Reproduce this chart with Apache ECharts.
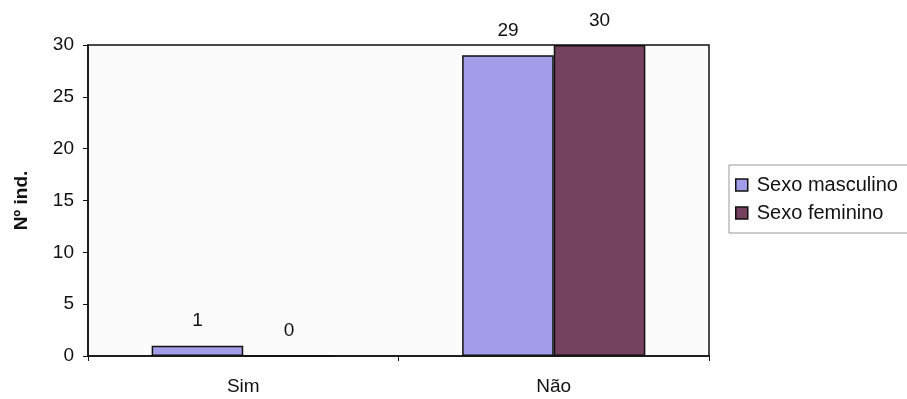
<!DOCTYPE html>
<html>
<head>
<meta charset="utf-8">
<script src="https://cdn.jsdelivr.net/npm/echarts@6/dist/echarts.min.js"></script>
<style>html,body{margin:0;padding:0;background:#fff;}#c{width:907px;height:399px;}</style>
</head>
<body>
<div id="c"></div>
<script>
var categories = ['Sim', 'Não'];
var seriesNames = ['Sexo masculino', 'Sexo feminino'];
var masculino = [1, 29];
var feminino = [0, 30];
var yTicks = [0, 5, 10, 15, 20, 25, 30];

var chart = echarts.init(document.getElementById('c'));
var font = 'Liberation Sans, Arial, sans-serif';
var lbl = {show: true, position: 'top', distance: 15, color: '#111', fontSize: 19, fontFamily: font};
chart.setOption({
  animation: false,
  backgroundColor: '#fff',
  grid: {left: 88, right: 198, top: 45, bottom: 43, show: true, borderColor: '#111', borderWidth: 1.5, backgroundColor: '#fbfbfb'},
  legend: {
    orient: 'vertical', left: 729, top: 165,
    itemWidth: 12, itemHeight: 12, itemGap: 8,
    padding: [10, 30, 10, 6],
    borderColor: '#999', borderWidth: 1,
    icon: 'rect',
    itemStyle: {borderColor: '#111', borderWidth: 1.5},
    textStyle: {fontSize: 20, fontFamily: font, color: '#111', padding: [0, 0, 0, 4]},
    data: seriesNames
  },
  xAxis: {
    type: 'category', data: categories,
    axisLine: {lineStyle: {color: '#111', width: 1.5}},
    axisTick: {show: true, length: 5, lineStyle: {color: '#111'}},
    axisLabel: {fontSize: 19, fontFamily: font, color: '#111', margin: 21}
  },
  yAxis: {
    type: 'value', min: yTicks[0], max: yTicks[yTicks.length - 1], interval: 5,
    name: 'Nº ind.', nameLocation: 'middle', nameGap: 57, nameRotate: 90,
    nameTextStyle: {fontSize: 19, fontWeight: 'bold', fontFamily: font, color: '#111'},
    axisLine: {show: true, lineStyle: {color: '#111', width: 1.5}},
    axisTick: {show: true, length: 5, lineStyle: {color: '#111'}},
    axisLabel: {fontSize: 19, fontFamily: font, color: '#111', margin: 14},
    splitLine: {show: false}
  },
  series: [
    {name: seriesNames[0], type: 'bar', data: masculino, barGap: '0%', barCategoryGap: '41%',
     itemStyle: {color: '#a39de9', borderColor: '#111', borderWidth: 1.5}, label: lbl},
    {name: seriesNames[1], type: 'bar', data: feminino,
     itemStyle: {color: '#74415f', borderColor: '#111', borderWidth: 1.5}, label: lbl}
  ]
});
</script>
</body>
</html>
